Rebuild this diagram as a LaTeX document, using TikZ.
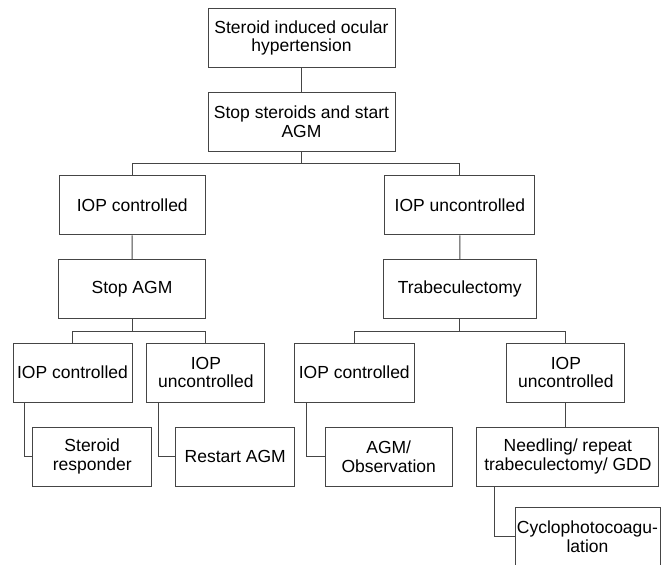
\documentclass[tikz,border=0pt]{standalone}
\usepackage{fontspec}
\setmainfont{Liberation Sans}
\usepackage{tikz}
\usetikzlibrary{calc}
\definecolor{boxgrey}{rgb}{0.27, 0.27, 0.27}

\tikzset{
	box/.style={draw=boxgrey, line width=0.95pt, minimum height=59pt, inner sep=1pt, align=center, font=\fontsize{17.5}{18.6}\selectfont},
	link/.style={draw=boxgrey, line width=0.95pt}
}

\begin{document}
\begin{tikzpicture}[x=1pt, y=-1pt]
					\useasboundingbox (0,0) rectangle (668,564);
					\def\drop{12.3}
					
					% top of the tree
					\node[box, minimum width=187pt] (induced) at (301.5,37.8) {Steroid induced ocular\\hypertension};
					\node[box, minimum width=187pt] (stopster) at (301.5,121.5) {Stop steroids and start\\AGM};
					
					% first split
					\node[box, minimum width=146pt] (ctrl) at (132.3,205.3) {IOP controlled};
					\node[box, minimum width=150pt] (unctrl) at (459.9,205.3) {IOP uncontrolled};
					\node[box, minimum width=147pt] (stopagm) at (132,288.8) {Stop AGM};
					\node[box, minimum width=153pt] (trab) at (459.7,288.8) {Trabeculectomy};
					
					% after stopping AGM
					\node[box, minimum width=119pt] (ctrlagm) at (72.5,372.5) {IOP controlled};
					\node[box, minimum width=118pt] (unctrlagm) at (205.9,372.5) {IOP\\uncontrolled};
					\node[box, minimum width=119pt] (responder) at (92.2,456.5) {Steroid\\responder};
					\node[box, minimum width=119pt] (restart) at (235.2,456.5) {Restart AGM};
					
					% after trabeculectomy
					\node[box, minimum width=120pt] (ctrltrab) at (354.3,372.5) {IOP controlled};
					\node[box, minimum width=118pt] (unctrltrab) at (565.9,372.5) {IOP\\uncontrolled};
					\node[box, minimum width=127pt] (observ) at (388.7,456.5) {AGM/\\Observation};
					\node[box, minimum width=182pt] (needling) at (567.9,456.5) {Needling/ repeat\\trabeculectomy/ GDD};
					\node[box, minimum width=145pt] (cyclo) at (587.5,536.8) {Cyclophotocoagu-\\lation};
					
					\draw[link] (induced) -- (stopster);
					\draw[link] (stopster.south) -- ++(0,\drop) -| (ctrl.north);
					\draw[link] (stopster.south) -- ++(0,\drop) -| (unctrl.north);
					\draw[link] (ctrl) -- (stopagm);
					\draw[link] (unctrl) -- (trab);
					
					\draw[link] (stopagm.south) -- ++(0,\drop) -| (ctrlagm.north);
					\draw[link] (stopagm.south) -- ++(0,\drop) -| (unctrlagm.north);
					\draw[link] (trab.south) -- ++(0,\drop) -| (ctrltrab.north);
					\draw[link] (trab.south) -- ++(0,\drop) -| (unctrltrab.north);
					
					% side branches
					\draw[link] ([xshift=12pt]ctrlagm.south west) |- (responder.west);
					\draw[link] ([xshift=11.6pt]unctrlagm.south west) |- (restart.west);
					\draw[link] ([xshift=12.4pt]ctrltrab.south west) |- (observ.west);
					\draw[link] (unctrltrab.south) -- (unctrltrab.south |- needling.north);
					\draw[link] ([xshift=17.6pt]needling.south west) |- (cyclo.west);
					
\end{tikzpicture}
\end{document}
